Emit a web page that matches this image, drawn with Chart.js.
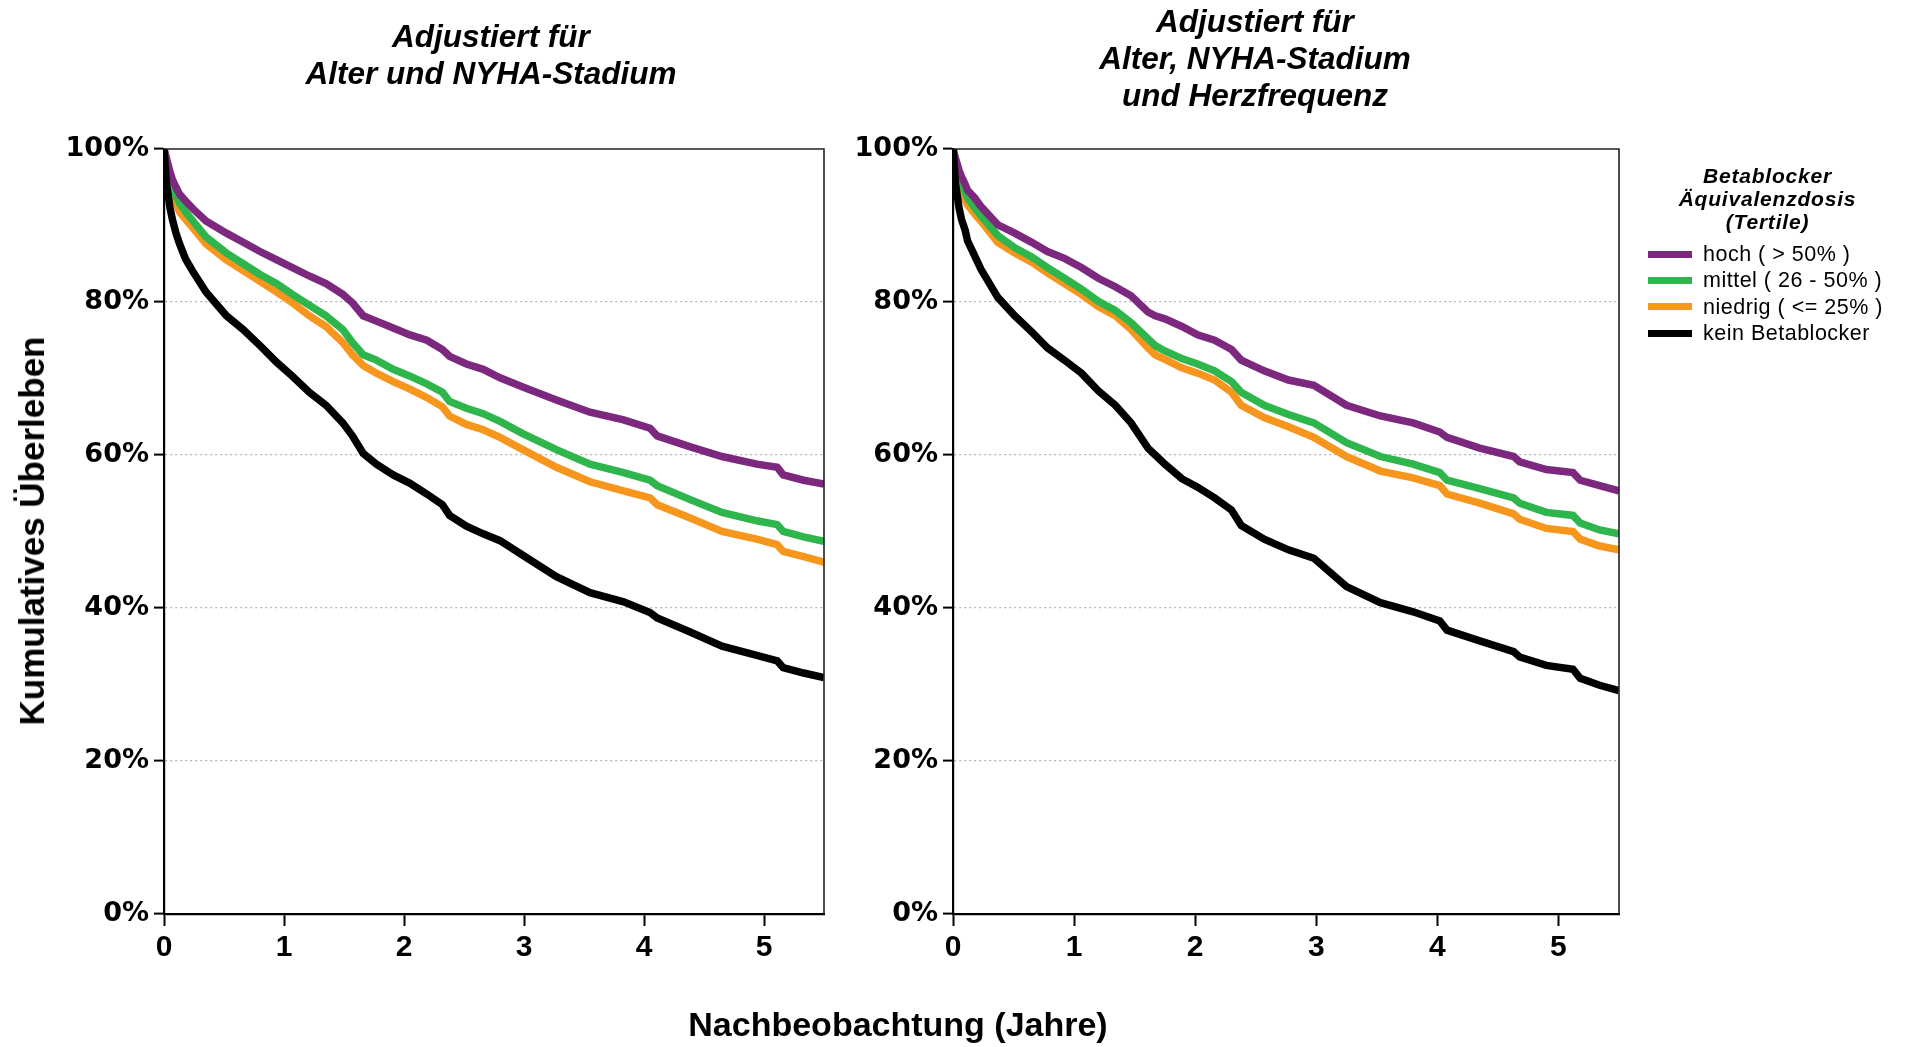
<!DOCTYPE html>
<html lang="de">
<head>
<meta charset="utf-8">
<title>Betablocker Äquivalenzdosis – Überleben</title>
<script src="https://cdn.jsdelivr.net/npm/chart.js@4.4.1/dist/chart.umd.min.js"></script>
<style>
  html, body { margin: 0; padding: 0; background: #fff; }
  #wrap { position: relative; width: 1905px; height: 1047px; overflow: hidden; font-family: 'Liberation Sans', Arial, sans-serif; color: #000; }
  canvas { position: absolute; top: 0; }
  .ptitle { position: absolute; width: 600px; text-align: center; font-weight: bold; font-style: italic; font-size: 31.5px; line-height: 37px; }
  #ytitle { position: absolute; left: 32px; top: 531px; transform: translate(-50%, -50%) rotate(-90deg); white-space: nowrap; font-weight: bold; font-size: 35px; }
  #xtitle { position: absolute; left: 898px; top: 1024px; transform: translate(-50%, -50%); white-space: nowrap; font-weight: bold; font-size: 34px; }
  #legend { position: absolute; left: 1640px; top: 164px; width: 265px; }
  #legend .lt { text-align: center; margin-left: -10px; font-weight: bold; font-style: italic; font-size: 21px; letter-spacing: 0.8px; line-height: 23px; margin-bottom: 8px; }
  #legend .li { position: relative; height: 26.3px; font-size: 21.5px; letter-spacing: 0.5px; line-height: 26.3px; padding-left: 63px; white-space: nowrap; }
  #legend .li span { position: absolute; left: 8px; top: 9.7px; width: 44px; height: 7px; }
</style>
</head>
<body>
<div id="wrap">
  <canvas id="links" width="840" height="1047" style="left:0"></canvas>
  <canvas id="rechts" width="820" height="1047" style="left:840px"></canvas>
  <div class="ptitle" style="left:191px; top:18px">Adjustiert für<br>Alter und NYHA-Stadium</div>
  <div class="ptitle" style="left:955px; top:3px">Adjustiert für<br>Alter, NYHA-Stadium<br>und Herzfrequenz</div>
  <div id="ytitle">Kumulatives Überleben</div>
  <div id="xtitle">Nachbeobachtung (Jahre)</div>
  <div id="legend"></div>
</div>
<script>
// --- Daten ---
const gruppen = ['hoch ( > 50% )', 'mittel ( 26 - 50% )', 'niedrig ( <= 25% )', 'kein Betablocker'];
const farben = ['#7B287E', '#2EB54B', '#F7961D', '#000000'];
const legendenTitel = ['Betablocker', 'Äquivalenzdosis', '(Tertile)'];
const yTicks = [0, 20, 40, 60, 80, 100];

// linkes Panel: adjustiert für Alter und NYHA-Stadium
const tLinks = [0, 0.02, 0.05, 0.07, 0.10, 0.13, 0.18, 0.24, 0.35, 0.52, 0.66, 0.80, 0.94, 1.07, 1.21, 1.35, 1.49, 1.57, 1.66, 1.77, 1.91, 2.05, 2.19, 2.32, 2.38, 2.52, 2.66, 2.80, 2.99, 3.27, 3.55, 3.83, 4.05, 4.11, 4.38, 4.65, 4.94, 5.11, 5.16, 5.33, 5.50];
const hochLinks = [100, 98.8, 97.0, 96.0, 95.0, 94.1, 93.2, 92.2, 90.6, 89.0, 87.8, 86.6, 85.5, 84.5, 83.4, 82.4, 81.0, 79.9, 78.2, 77.5, 76.6, 75.7, 75.0, 73.8, 72.9, 71.9, 71.2, 70.1, 68.9, 67.2, 65.6, 64.6, 63.5, 62.5, 61.1, 59.8, 58.8, 58.4, 57.4, 56.7, 56.2];
const mittelLinks = [100, 98.5, 96.3, 95.0, 93.9, 92.9, 91.8, 90.6, 88.5, 86.4, 85.0, 83.6, 82.4, 81.0, 79.6, 78.2, 76.4, 74.7, 73.1, 72.4, 71.2, 70.3, 69.3, 68.2, 67.0, 66.1, 65.4, 64.4, 62.8, 60.7, 58.8, 57.7, 56.7, 56.0, 54.2, 52.5, 51.4, 50.9, 50.0, 49.3, 48.7];
const niedrigLinks = [100, 98.2, 95.6, 94.1, 92.9, 91.8, 90.8, 89.7, 87.6, 85.5, 84.1, 82.7, 81.3, 79.9, 78.2, 76.8, 74.7, 73.1, 71.7, 70.7, 69.6, 68.6, 67.5, 66.3, 65.1, 64.0, 63.3, 62.3, 60.7, 58.4, 56.5, 55.3, 54.4, 53.5, 51.8, 50.0, 49.0, 48.3, 47.4, 46.7, 46.0];
const keinLinks = [100, 95.5, 92.3, 90.8, 89.0, 87.6, 85.6, 84.0, 81.3, 78.2, 76.4, 74.3, 72.1, 70.3, 68.2, 66.5, 64.2, 62.5, 60.2, 58.8, 57.4, 56.3, 54.9, 53.5, 52.1, 50.7, 49.7, 48.8, 46.9, 44.1, 42.0, 40.8, 39.4, 38.7, 36.9, 35.0, 33.8, 33.1, 32.2, 31.5, 30.9];

// rechtes Panel: zusätzlich adjustiert für Herzfrequenz
const tRechts = [0, 0.02, 0.05, 0.07, 0.10, 0.12, 0.18, 0.23, 0.37, 0.51, 0.65, 0.78, 0.92, 1.06, 1.20, 1.34, 1.47, 1.61, 1.67, 1.75, 1.89, 2.02, 2.16, 2.30, 2.38, 2.57, 2.77, 2.98, 3.25, 3.53, 3.80, 4.02, 4.08, 4.35, 4.63, 4.68, 4.90, 5.12, 5.18, 5.34, 5.50];
const hochRechts = [100, 98.8, 97.2, 96.4, 95.4, 94.6, 93.6, 92.5, 90.1, 89.0, 87.8, 86.6, 85.7, 84.5, 83.1, 82.0, 80.8, 78.7, 78.2, 77.8, 76.8, 75.7, 75.0, 73.8, 72.4, 71.0, 69.8, 69.1, 66.5, 65.1, 64.2, 63.0, 62.3, 60.9, 59.8, 59.1, 58.1, 57.7, 56.7, 56.0, 55.3];
const mittelRechts = [100, 98.6, 96.6, 95.5, 94.4, 93.6, 92.3, 91.3, 88.7, 87.1, 85.9, 84.5, 83.1, 81.7, 80.1, 78.9, 77.3, 75.2, 74.3, 73.6, 72.6, 71.9, 71.0, 69.6, 68.2, 66.5, 65.3, 64.2, 61.6, 59.8, 58.8, 57.7, 56.7, 55.6, 54.4, 53.7, 52.5, 52.1, 51.1, 50.2, 49.7];
const niedrigRechts = [100, 98.3, 96.0, 94.6, 93.4, 92.7, 91.5, 90.6, 87.8, 86.4, 85.2, 83.8, 82.4, 81.0, 79.4, 78.2, 76.4, 74.0, 73.1, 72.5, 71.4, 70.7, 69.8, 68.2, 66.5, 64.9, 63.7, 62.3, 59.8, 57.9, 57.0, 56.0, 54.9, 53.7, 52.3, 51.6, 50.4, 50.0, 49.0, 48.1, 47.6];
const keinRechts = [100, 95.5, 92.3, 90.8, 89.4, 88.0, 86.0, 84.3, 80.6, 78.2, 76.1, 74.0, 72.4, 70.7, 68.4, 66.5, 64.2, 60.9, 60.0, 58.8, 56.9, 55.8, 54.4, 52.8, 50.8, 49.0, 47.6, 46.5, 42.8, 40.7, 39.5, 38.3, 37.1, 35.7, 34.3, 33.6, 32.5, 32.0, 30.8, 29.9, 29.2];

// Rahmen oben/rechts um die Plotfläche
const rahmen = {
    id: 'rahmen',
    afterDatasetsDraw(chart) {
        const a = chart.chartArea, c = chart.ctx;
        c.save();
        c.strokeStyle = '#222';
        c.lineWidth = 1.6;
        c.beginPath();
        c.moveTo(a.left, a.top);
        c.lineTo(a.right, a.top);
        c.lineTo(a.right, a.bottom);
        c.stroke();
        c.restore();
    }
};

function baueDatensaetze(t, reihen) {
    return reihen.map((werte, i) => ({
        label: gruppen[i],
        data: t.map((x, j) => ({ x: x, y: werte[j] })),
        borderColor: farben[i],
        backgroundColor: farben[i],
        borderWidth: 7.5,
        pointRadius: 0,
        tension: 0,
        order: i === 3 ? 0 : i + 1
    }));
}

function baueChart(id, t, reihen, yBreite, rechtsPad) {
    return new Chart(document.getElementById(id), {
        type: 'line',
        data: { datasets: baueDatensaetze(t, reihen) },
        options: {
            responsive: false,
            animation: false,
            layout: { padding: { top: 149, right: rechtsPad, bottom: 0, left: 0 } },
            plugins: { legend: { display: false }, tooltip: { enabled: false } },
            scales: {
                x: {
                    type: 'linear',
                    min: 0, max: 5.5,
                    afterFit: s => { s.height = 133; },
                    border: { color: '#000', width: 2.2 },
                    grid: { drawOnChartArea: false, drawTicks: true, tickLength: 12, tickColor: '#000', tickWidth: 2 },
                    ticks: {
                        stepSize: 1, includeBounds: false, padding: 4, color: '#000',
                        font: { family: "'Liberation Sans', Arial, sans-serif", weight: 'bold', size: 30 }
                    }
                },
                y: {
                    min: 0, max: 100,
                    afterFit: s => { s.width = yBreite; },
                    afterBuildTicks: s => { s.ticks = yTicks.map(v => ({ value: v })); },
                    border: { color: '#000', width: 2.2, dash: [2, 3] },
                    grid: {
                        color: c => (c.tick && (c.tick.value === 0 || c.tick.value === 100)) ? 'rgba(0,0,0,0)' : '#b4b4b4',
                        lineWidth: 1.2, tickLength: 10, tickColor: '#000', tickWidth: 2, tickBorderDash: []
                    },
                    ticks: {
                        padding: 5, color: '#000',
                        callback: v => v + '%',
                        font: { family: "'DejaVu Sans', sans-serif", weight: 'bold', size: 27 }
                    }
                }
            }
        },
        plugins: [rahmen]
    });
}

baueChart('links', tLinks, [hochLinks, mittelLinks, niedrigLinks, keinLinks], 164, 16);
baueChart('rechts', tRechts, [hochRechts, mittelRechts, niedrigRechts, keinRechts], 113, 41);

// Legende
const leg = document.getElementById('legend');
const lt = document.createElement('div');
lt.className = 'lt';
lt.innerHTML = legendenTitel.join('<br>');
leg.appendChild(lt);
gruppen.forEach((g, i) => {
    const d = document.createElement('div');
    d.className = 'li';
    const s = document.createElement('span');
    s.style.background = farben[i];
    d.appendChild(s);
    d.appendChild(document.createTextNode(g));
    leg.appendChild(d);
});
</script>
</body>
</html>
